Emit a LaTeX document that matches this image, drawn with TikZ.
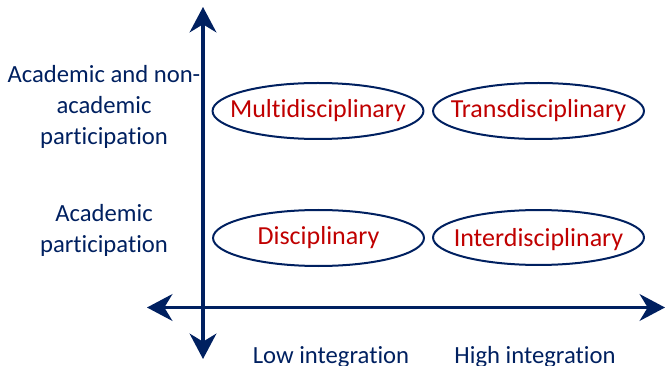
\documentclass[tikz,border=0pt]{standalone}
\usepackage{fontspec}
\setmainfont{Carlito}[Ligatures=NoCommon]
\usetikzlibrary{arrows.meta}
\definecolor{navy}{HTML}{002060}
\definecolor{darkred}{HTML}{C00000}
\tikzset{
  axis/.style={navy, line width=2.6pt,
    {Stealth[length=19pt,width=20pt,inset=6pt]}-{Stealth[length=19pt,width=20pt,inset=6pt]}},
  field/.style={text=darkred, inner sep=0pt, font=\fontsize{19.5}{23.3}\selectfont},
  fieldline/.style={draw=navy, line width=1.5pt},
  sidelabel/.style={align=center, text=navy, font=\fontsize{18.5}{23.3}\selectfont},
}
\begin{document}
\begin{tikzpicture}[x=0.75pt, y=-0.75pt]
      \useasboundingbox (0, 0) rectangle (666, 366);

      %%axes
      \coordinate (ytop) at (203, 7);
      \coordinate (ybot) at (203, 359);
      \coordinate (xleft) at (147, 307.5);
      \coordinate (xright) at (665, 307.5);
        \draw[axis](ybot) to (ytop);
        \draw[axis](xleft) to (xright);

      %%fields
        \node[field] (multi) at (318, 111){Multidisciplinary};
        \node[field] (trans) at (538.5, 111){Transdisciplinary};
        \node[field] (disc) at (318.5, 238){Disciplinary};
        \node[field] (inter) at (538.5, 240){Interdisciplinary};
          \draw[fieldline](318, 111) ellipse [x radius=79.1pt, y radius=21pt];
          \draw[fieldline](538.5, 111) ellipse [x radius=79.1pt, y radius=21pt];
          \draw[fieldline](318.5, 238) ellipse [x radius=79.1pt, y radius=21pt];
          \draw[fieldline](538.5, 237.5) ellipse [x radius=79.1pt, y radius=20.6pt];

      %%participation
        \node[sidelabel] (nonacad) at (104, 107){Academic and non-\\academic\\participation};
        \node[sidelabel] (acad) at (104, 230){Academic\\participation};

      %%integration
        \node[sidelabel, anchor=base] (low) at (331, 363){Low integration};
        \node[sidelabel, anchor=base] (high) at (535, 363){High integration};

\end{tikzpicture}
\end{document}
